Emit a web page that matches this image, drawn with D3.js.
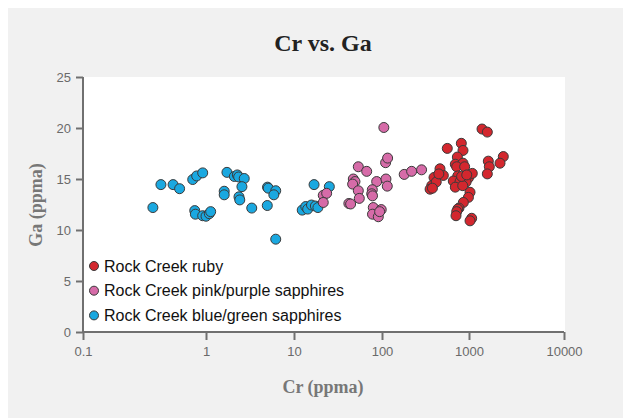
<!DOCTYPE html>
<html><head><meta charset="utf-8">
<script src="https://cdn.jsdelivr.net/npm/d3@7"></script>
<style>
html,body{margin:0;padding:0;background:#fff;}
svg{display:block;}
</style></head>
<body>
<svg id="chart" width="623" height="418"></svg>
<script>
// ---- data ----
const seriesNames = ["Rock Creek ruby", "Rock Creek pink/purple sapphires", "Rock Creek blue/green sapphires"];
const seriesColors = ["#d3272e", "#d66ba8", "#1aa8e0"];
const xTickValues = [0.1, 1, 10, 100, 1000, 10000];
const xTickLabels = ["0.1", "1", "10", "100", "1000", "10000"];
const yTickValues = [0, 5, 10, 15, 20, 25];

const rubyCr = [563,816,853,735,1371,1559,1597,1636,1559,2297,2120,696,853,722,891,464,507,396,373,357,743,985,1083,660,789,925,696,847,822,942,1025,985,861,767,743,722,709,1067,1025,420,380,450];
const rubyGa = [18.0,18.5,17.8,17.15,19.9,19.6,16.75,16.2,15.5,17.2,16.55,16.45,16.55,16.2,16.2,16.0,15.35,15.15,14.35,14.0,15.3,15.1,15.55,14.8,14.75,14.7,14.2,14.35,15.25,15.4,13.7,13.2,12.7,12.15,12.05,11.8,11.4,11.15,10.9,14.7,14.1,15.5];

const pinkCr = [21.5,23.5,21.5,42,105,53.8,67,47.2,49.3,46.4,53.8,55.2,44,87,77.6,76.4,78,111,115,110,116,79.6,78,90.8,98,94,180,219,285];
const pinkGa = [13.4,13.6,12.7,12.6,20.05,16.2,15.75,15.0,14.75,14.5,13.85,13.1,12.55,14.75,13.95,13.55,13.35,15.0,14.3,16.6,17.05,12.2,11.55,11.3,12.0,11.8,15.45,15.75,15.9];

const blueCr = [0.37,0.43,0.54,0.61,0.78,0.84,0.94,0.81,0.82,0.94,1.0,1.09,1.13,1.61,1.61,1.73,2.1,2.27,2.35,2.72,2.56,2.37,2.42,3.31,5.0,5.1,6.2,5.9,4.97,6.2,12.4,13.6,14.3,15.8,16.9,17.5,18.7,25.2];
const blueGa = [12.2,14.45,14.45,14.05,14.95,15.3,15.6,11.9,11.55,11.4,11.35,11.6,11.8,13.8,13.45,15.65,15.25,15.4,15.2,15.05,14.25,13.25,12.95,12.15,14.2,14.1,13.85,13.45,12.4,9.1,11.95,12.3,12.05,12.45,14.45,12.35,12.2,14.25];

// ---- drawing ----
const svg = d3.select("#chart");
svg.append("rect").attr("x", 8).attr("y", 8).attr("width", 615).attr("height", 410).attr("fill", "#f1f1f1");

const plot = {left: 83, right: 564, top: 77, bottom: 332};
const x = d3.scaleLog().domain(xTickValues).range([83, 206, 294, 382, 469, 564]);
const y = d3.scaleLinear().domain([0, 25]).range([plot.bottom, plot.top]);

svg.append("rect").attr("x", plot.left).attr("y", plot.top)
  .attr("width", plot.right - plot.left + 1).attr("height", plot.bottom - plot.top).attr("fill", "#fff");

// title
svg.append("text").attr("x", 323).attr("y", 51).attr("text-anchor", "middle")
  .attr("font-family", "Liberation Serif, serif").attr("font-weight", "bold")
  .attr("font-size", 24).attr("fill", "#222").text("Cr vs. Ga");

// axes
const axisColor = "#707070";
const xAxis = d3.axisBottom(x).tickValues(xTickValues).tickFormat((d, i) => xTickLabels[i]).tickSize(8).tickPadding(7);
const gx = svg.append("g").attr("transform", `translate(0,${plot.bottom})`).call(xAxis);
const yAxis = d3.axisLeft(y).tickValues(yTickValues).tickSize(7).tickPadding(5);
const gy = svg.append("g").attr("transform", `translate(${plot.left},0)`).call(yAxis);
[gx, gy].forEach(g => {
  g.select(".domain").attr("stroke", axisColor).attr("stroke-width", 2);
  g.selectAll(".tick line").attr("stroke", axisColor).attr("stroke-width", 2);
  g.selectAll(".tick text").attr("fill", "#6a6a6a").attr("font-size", 13)
    .attr("font-family", "Liberation Sans, Arial, sans-serif");
});
gx.select(".domain").attr("d", `M${plot.left},0H${plot.right}`);
gy.select(".domain").attr("d", `M0,${plot.top}V${plot.bottom}`);

// axis labels
svg.append("text").attr("x", 323).attr("y", 393).attr("text-anchor", "middle")
  .attr("font-family", "Liberation Serif, serif").attr("font-weight", "bold")
  .attr("font-size", 18).attr("fill", "#777").text("Cr (ppma)");
svg.append("text").attr("transform", "translate(42,205) rotate(-90)").attr("text-anchor", "middle")
  .attr("font-family", "Liberation Serif, serif").attr("font-weight", "bold")
  .attr("font-size", 18).attr("fill", "#777").text("Ga (ppma)");

// points
const series = [
  {cr: blueCr, ga: blueGa, color: seriesColors[2]},
  {cr: pinkCr, ga: pinkGa, color: seriesColors[1]},
  {cr: rubyCr, ga: rubyGa, color: seriesColors[0]}
];
series.forEach(s => {
  svg.append("g").selectAll("circle").data(s.cr.map((c, i) => [c, s.ga[i]])).join("circle")
    .attr("cx", d => x(d[0])).attr("cy", d => y(d[1])).attr("r", 5)
    .attr("fill", s.color).attr("stroke", "#3a3a3a").attr("stroke-width", 1);
});

// legend
const leg = svg.append("g").attr("transform", "translate(94,266)");
seriesNames.forEach((n, i) => {
  const g = leg.append("g").attr("transform", `translate(0,${i * 24.7})`);
  g.append("circle").attr("r", 4.5).attr("fill", seriesColors[i]).attr("stroke", "#3a3a3a").attr("stroke-width", 1);
  g.append("text").attr("x", 10).attr("y", 5.5).attr("font-family", "Liberation Sans, Arial, sans-serif")
    .attr("font-size", 16).attr("fill", "#111").text(n);
});
</script>
</body></html>
